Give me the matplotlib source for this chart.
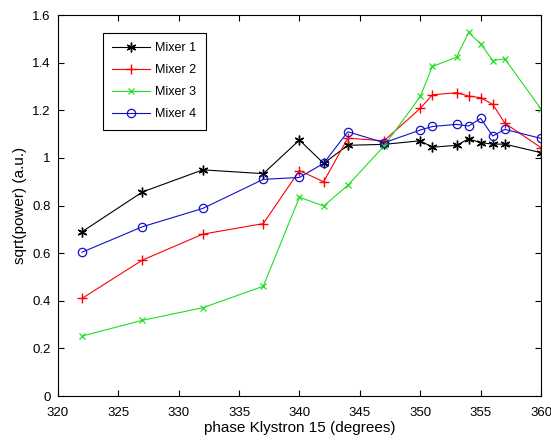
import matplotlib
matplotlib.use("Agg")
import matplotlib.pyplot as plt

plt.rcParams['font.family'] = ['Liberation Sans', 'DejaVu Sans']

phase = [322, 327, 332, 337, 340, 342, 344, 347, 350, 351, 353, 354, 355, 356, 357, 360]
mixer1 = [0.69, 0.857, 0.95, 0.934, 1.075, 0.977, 1.053, 1.057, 1.072, 1.045, 1.053, 1.08, 1.064, 1.058, 1.058, 1.022]
mixer2 = [0.41, 0.571, 0.68, 0.724, 0.947, 0.9, 1.083, 1.072, 1.208, 1.265, 1.274, 1.26, 1.253, 1.225, 1.146, 1.043]
mixer3 = [0.252, 0.318, 0.371, 0.461, 0.835, 0.798, 0.885, 1.05, 1.258, 1.384, 1.423, 1.527, 1.479, 1.409, 1.416, 1.205]
mixer4 = [0.604, 0.711, 0.788, 0.91, 0.918, 0.977, 1.11, 1.064, 1.117, 1.132, 1.141, 1.134, 1.166, 1.092, 1.12, 1.082]

names = ['Mixer 1', 'Mixer 2', 'Mixer 3', 'Mixer 4']
xticks = [320, 325, 330, 335, 340, 345, 350, 355, 360]
yticks = [0, 0.2, 0.4, 0.6, 0.8, 1.0, 1.2, 1.4, 1.6]
ytick_labels = ['0', '0.2', '0.4', '0.6', '0.8', '1', '1.2', '1.4', '1.6']

fig = plt.figure(figsize=(5.51, 4.43), dpi=100)
ax = fig.add_axes([0.105, 0.106, 0.877, 0.86])

asterisk = (6, 2, 0)
ax.plot(phase, mixer1, color='black', marker=asterisk, markersize=7, markeredgewidth=1.0, linewidth=0.8, label=names[0])
ax.plot(phase, mixer2, color='red', marker='+', markersize=7, markeredgewidth=1.0, linewidth=0.8, label=names[1])
ax.plot(phase, mixer3, color='#22dd22', marker='x', markersize=5, markeredgewidth=0.9, linewidth=0.8, label=names[2])
ax.plot(phase, mixer4, color='#1010cc', marker='o', markersize=6, markerfacecolor='none', markeredgewidth=0.9, linewidth=0.8, label=names[3])

ax.set_xlim(320, 360)
ax.set_ylim(0, 1.6)
ax.set_xticks(xticks)
ax.set_yticks(yticks)
ax.set_yticklabels(ytick_labels)
ax.tick_params(direction='in', top=True, right=True, labelsize=9.5, length=4, width=0.8)
ax.tick_params(axis='x', pad=8)
ax.tick_params(axis='y', pad=5)
for s in ax.spines.values():
    s.set_linewidth(0.8)

ax.set_xlabel('phase Klystron 15 (degrees)', fontsize=11, labelpad=1)
ax.set_ylabel('sqrt(power) (a.u.)', fontsize=11, labelpad=4)

leg = ax.legend(loc='upper left', bbox_to_anchor=(0.093, 0.953), fontsize=9,
                fancybox=False, edgecolor='black', framealpha=1, borderpad=0.75,
                handlelength=3.0, handletextpad=0.45, labelspacing=0.8, borderaxespad=0)
leg.get_frame().set_linewidth(0.8)

fig.savefig('out.png', dpi=100)
